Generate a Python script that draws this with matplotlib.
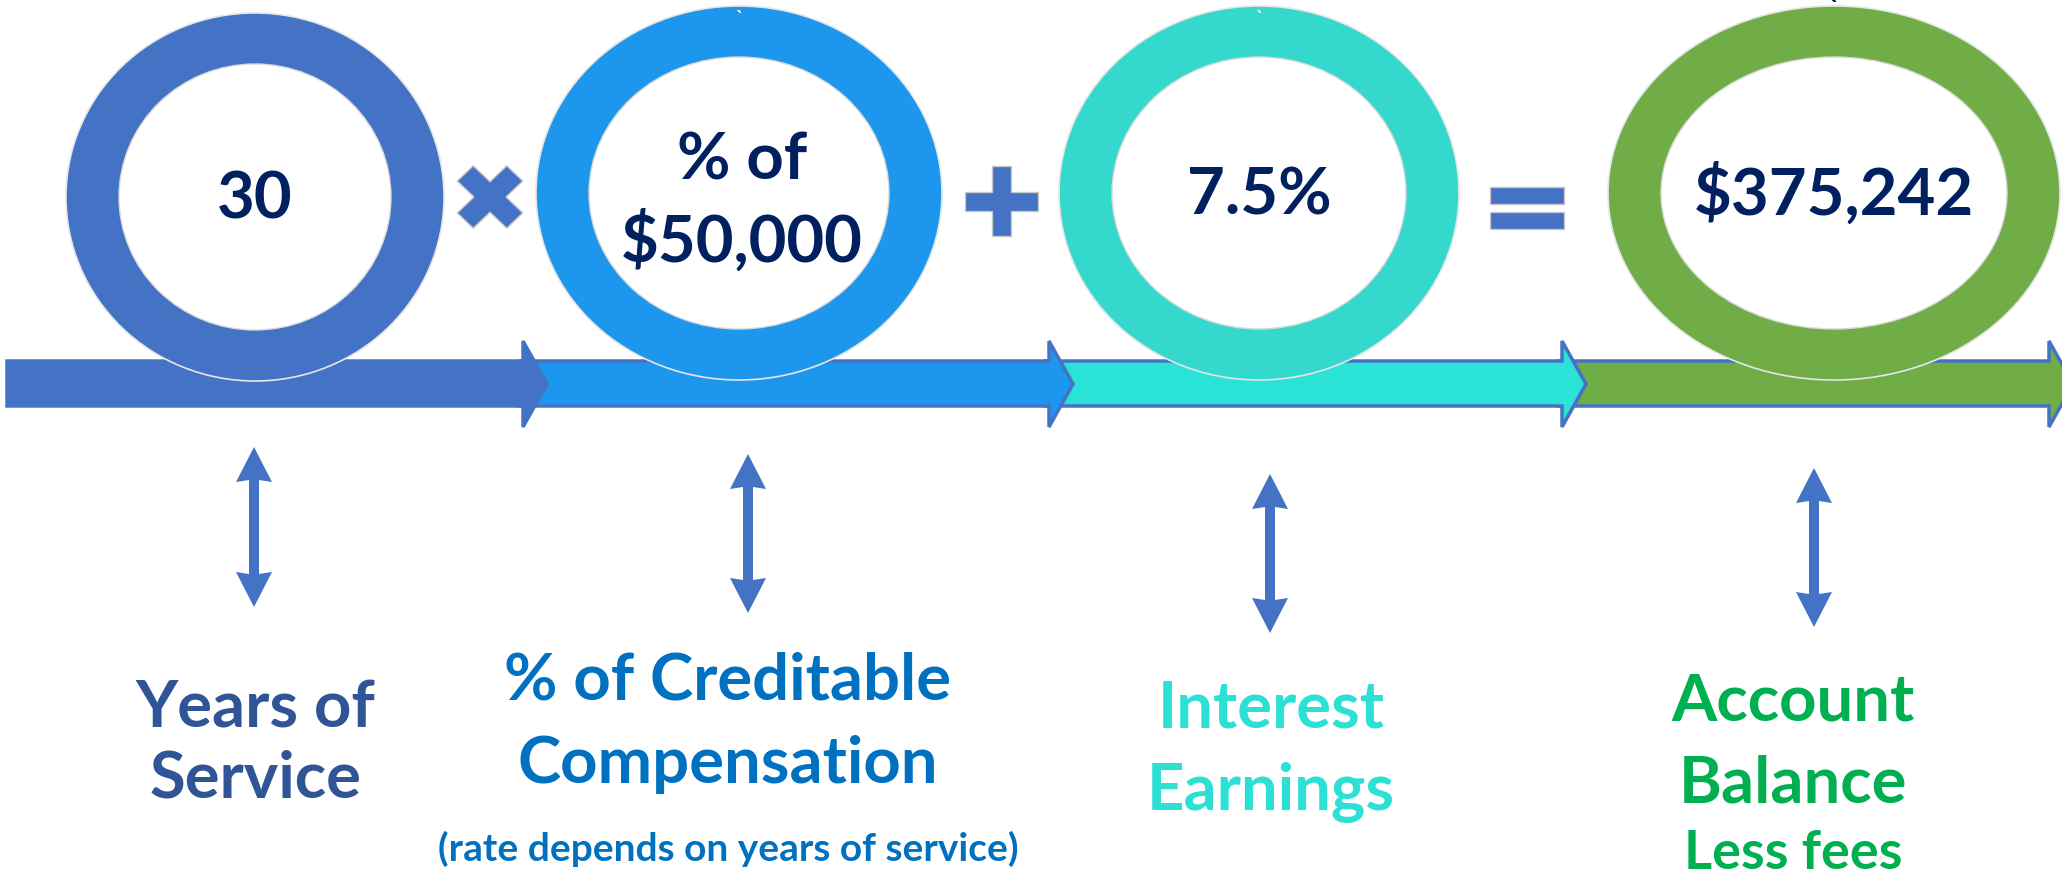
import matplotlib
matplotlib.use("Agg")
import matplotlib.pyplot as plt
from matplotlib.patches import Ellipse, Polygon, Rectangle
import numpy as np

# ---------------- data ----------------
ring_labels = ["30", "% of\n$50,000", "7.5%", "$375,242"]
operators = ["×", "+", "="]
caption_titles = ["Years of\nService", "% of Creditable\nCompensation",
                  "Interest\nEarnings", "Account\nBalance"]
caption_notes = ["", "(rate depends on years of service)", "", "Less fees"]
stray_marks = ["", "`", "`", "`"]

# ---------------- styles / layout ----------------
ring_colors = ["#4472C4", "#1D96EE", "#35D8CC", "#70AD47"]
bar_colors = ["#4472C4", "#1D96EE", "#2AE3D6", "#70AD47"]
caption_colors = ["#2F5597", "#0070C0", "#2CE0D6", "#00B050"]
mark_colors = ["white", "white", "white", "#002060"]
mark_sizes = [0, 14, 14, 22]
mark_base = [0, 24, 24, 20]
navy = "#002060"
op_color = "#4472C4"
FONT = "Lato"

W, H = 2062, 879
ring_cx = [255, 739, 1259, 1834]
ring_cy = [198, 194, 194, 194]
ring_rx = [189, 203, 200, 226]
ring_ry = [184, 187, 187, 187]
ring_tx, ring_ty = 53, 51

bar_start = [7, 520, 1045, 1558]
bar_headbase = [523, 1049, 1562, 2049]
head_len = 24
bar_y0, bar_y1 = 362, 407
head_y0, head_y1 = 342, 428

op_cx = [490, 1001, 1527]
op_cy = [198, 202, 209]

darr_x = [254, 748, 1270, 1814]
darr_top = [448, 455, 475, 469]
darr_bot = [608, 614, 634, 628]

cap_cx = [255, 728, 1271, 1793]
cap_base1 = [728, 700, 728, 721]
cap_base2 = [798, 783, 810, 803]
note_base = [0, 861, 0, 869]
note_size = [0, 28, 0, 39]
cap_size = 47
ring_size = 47

fig = plt.figure(figsize=(W / 100, H / 100), dpi=100)
ax = fig.add_axes([0, 0, 1, 1])
ax.set_xlim(0, W)
ax.set_ylim(H, 0)
ax.axis("off")

# ---------------- timeline bars (drawn right to left so heads overlap) ----------------
ym = (head_y0 + head_y1) / 2
for i in reversed(range(4)):
    x0, hb = bar_start[i], bar_headbase[i]
    pts = [(x0, bar_y0), (hb, bar_y0), (hb, head_y0), (hb + head_len, ym),
           (hb, head_y1), (hb, bar_y1), (x0, bar_y1)]
    ax.add_patch(Polygon(pts, closed=True, facecolor=bar_colors[i],
                         edgecolor="#4472C4", lw=2.5, joinstyle="miter", zorder=2))

# ---------------- rings ----------------
for i in range(4):
    ax.add_patch(Ellipse((ring_cx[i], ring_cy[i]), 2 * ring_rx[i], 2 * ring_ry[i],
                         facecolor=ring_colors[i], edgecolor="#E6E6E6", lw=1.2, zorder=3))
    ax.add_patch(Ellipse((ring_cx[i], ring_cy[i]), 2 * (ring_rx[i] - ring_tx),
                         2 * (ring_ry[i] - ring_ty),
                         facecolor="white", edgecolor="#D9D9D9", lw=1.0, zorder=4))
    lines = ring_labels[i].split("\n")
    if len(lines) == 1:
        ax.text(ring_cx[i], ring_cy[i] + 21, lines[0], ha="center", va="baseline",
                fontsize=ring_size, fontweight="bold", color=navy, family=FONT, zorder=5)
    else:
        ax.text(ring_cx[i] + 3, ring_cy[i] - 14, lines[0], ha="center", va="baseline",
                fontsize=ring_size, fontweight="bold", color=navy, family=FONT, zorder=5)
        ax.text(ring_cx[i] + 3, ring_cy[i] + 68, lines[1], ha="center", va="baseline",
                fontsize=ring_size, fontweight="bold", color=navy, family=FONT, zorder=5)
    if stray_marks[i]:
        ax.text(ring_cx[i], mark_base[i], stray_marks[i], ha="center", va="baseline",
                fontsize=mark_sizes[i], fontweight="bold", color=mark_colors[i],
                family=FONT, zorder=6)

# ---------------- operators ----------------
def plus_poly(cx, cy, a, b, h, angle=0.0, sx=1.0, sy=1.0):
    base = np.array([(-h, -b), (h, -b), (h, -h), (a, -h), (a, h), (h, h),
                     (h, b), (-h, b), (-h, h), (-a, h), (-a, -h), (-h, -h)], float)
    c, s = np.cos(angle), np.sin(angle)
    rot = base @ np.array([[c, s], [-s, c]])
    rot[:, 0] *= sx
    rot[:, 1] *= sy
    return rot + np.array([cx, cy])

for k, op in enumerate(operators):
    cx, cy = op_cx[k], op_cy[k]
    if op == "×":
        pts = plus_poly(cx, cy, 34, 34, 11, np.pi / 4, sx=1.03, sy=0.98)
        ax.add_patch(Polygon(pts, closed=True, facecolor=op_color,
                             edgecolor="#C8C8C8", lw=1.0, zorder=5))
    elif op == "+":
        pts = plus_poly(cx, cy, 36.5, 35, 9.5)
        ax.add_patch(Polygon(pts, closed=True, facecolor=op_color,
                             edgecolor="#C8C8C8", lw=1.0, zorder=5))
    else:
        for dy in (-21, 4):
            ax.add_patch(Rectangle((cx - 37, cy + dy), 74, 17, facecolor=op_color,
                                   edgecolor="#C8C8C8", lw=1.0, zorder=5))

# ---------------- double-headed arrows ----------------
for i in range(4):
    x, t, b = darr_x[i], darr_top[i], darr_bot[i]
    hw, hl, sw = 18, 35, 5
    pts = [(x, t), (x + hw, t + hl), (x + sw, t + hl - 2), (x + sw, b - hl + 2),
           (x + hw, b - hl), (x, b), (x - hw, b - hl), (x - sw, b - hl + 2),
           (x - sw, t + hl - 2), (x - hw, t + hl)]
    ax.add_patch(Polygon(pts, closed=True, facecolor="#4472C4", edgecolor="none", zorder=2))

# ---------------- captions ----------------
for i in range(4):
    l1, l2 = caption_titles[i].split("\n")
    ax.text(cap_cx[i], cap_base1[i], l1, ha="center", va="baseline", fontsize=cap_size,
            fontweight="bold", color=caption_colors[i], family=FONT)
    ax.text(cap_cx[i], cap_base2[i], l2, ha="center", va="baseline", fontsize=cap_size,
            fontweight="bold", color=caption_colors[i], family=FONT)
    if caption_notes[i]:
        ax.text(cap_cx[i], note_base[i], caption_notes[i], ha="center", va="baseline",
                fontsize=note_size[i], fontweight="bold", color=caption_colors[i], family=FONT)

fig.savefig("out.png", dpi=100)
